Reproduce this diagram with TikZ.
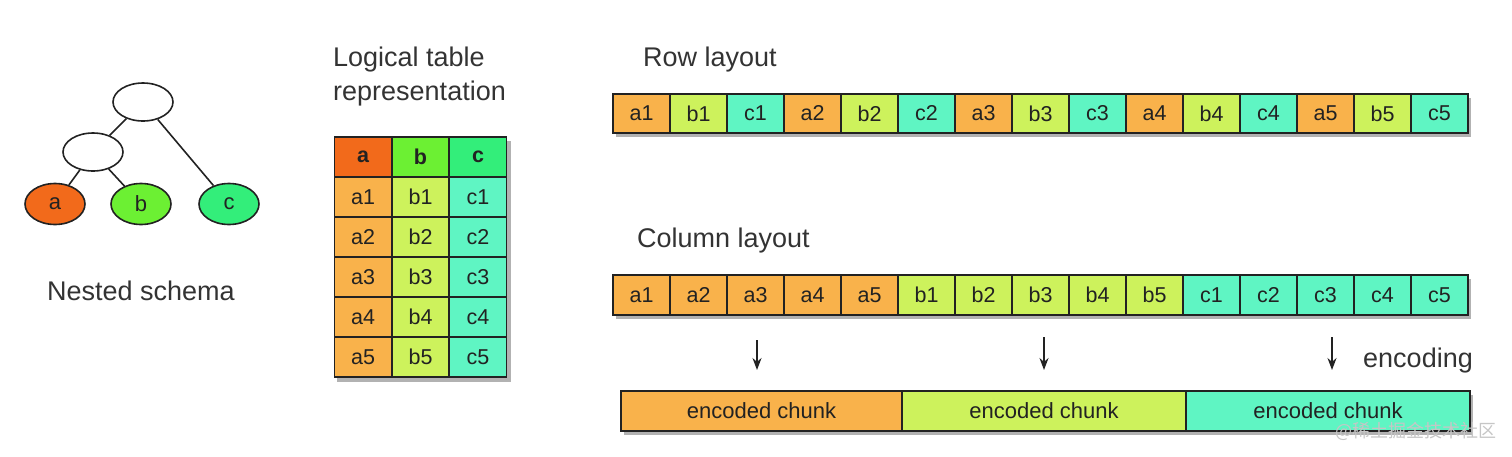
\documentclass[tikz,border=0pt]{standalone}
\usepackage{fontspec}
\setmainfont{Liberation Sans}
\newfontfamily\cjk{Noto Sans CJK SC}
\usetikzlibrary{shapes.geometric,shadows,arrows.meta}
\definecolor{hdrA}{HTML}{F26A1B}
\definecolor{hdrB}{HTML}{6CF033}
\definecolor{hdrC}{HTML}{33EE7A}
\definecolor{cellA}{HTML}{F9B24B}
\definecolor{cellB}{HTML}{CDF25C}
\definecolor{cellC}{HTML}{5FF5C3}
\definecolor{ink}{HTML}{222222}
\definecolor{title}{HTML}{333333}
\tikzset{
  title/.style={text=title,font=\fontsize{27}{32}\selectfont,anchor=base west,inner sep=0},
  treenode/.style={ellipse,draw=ink,line width=1.6pt,minimum width=60pt,minimum height=38pt,inner sep=0,font=\fontsize{22}{26}\selectfont,text=ink},
  edge/.style={draw=ink,line width=1.6pt},
  cell/.style={rectangle,draw=ink,line width=1.4pt,minimum width=57pt,minimum height=40pt,inner sep=0,font=\fontsize{21.5}{25}\selectfont,text=ink},
  hdr/.style={cell,font=\fontsize{21.5}{25}\selectfont\bfseries},
  chunk/.style={rectangle,draw=ink,line width=1.4pt,minimum height=40pt,inner sep=0,font=\fontsize{22}{26}\selectfont,text=ink},
  shadowbox/.style={draw=none,fill=black,opacity=0.3},
  encarrow/.style={draw=ink,line width=1.5pt,-{Stealth[length=12pt,width=9pt]}}
}
\begin{document}
\begin{tikzpicture}[x=1pt,y=-1pt]
\useasboundingbox (0,0) rectangle (1512,456);

% ---------- Nested schema ----------
\node[treenode] (root) at (143,102) {};
\node[treenode] (mid) at (93,152) {};
\node[treenode,fill=hdrA,minimum height=41pt] (la) at (55,204) {a};
\node[treenode,fill=hdrB,minimum height=41pt] (lb) at (141,204) {b};
\node[treenode,fill=hdrC,minimum height=41pt] (lc) at (229,204) {c};
\draw[edge] (root) -- (mid);
\draw[edge] (mid) -- (la);
\draw[edge] (mid) -- (lb);
\draw[edge] (root) -- (lc);
\node[title,anchor=base] (nestedtitle) at (141,300) {Nested schema};

% ---------- Logical table ----------
\node[title] (tabtitle1) at (333,66) {Logical table};
\node[title] (tabtitle2) at (333,100) {representation};
\fill[shadowbox] (337,141) rectangle (511,382);
\node[hdr,fill=hdrA] (tab-a) at (363,157) {a};
\node[hdr,fill=hdrB] (tab-b) at (420.5,157) {b};
\node[hdr,fill=hdrC] (tab-c) at (478,157) {c};
\foreach \r in {1,...,5}{
  \pgfmathsetmacro{\yy}{157+40*\r}
  \node[cell,fill=cellA] (tab-a\r) at (363,\yy) {a\r};
  \node[cell,fill=cellB] (tab-b\r) at (420.5,\yy) {b\r};
  \node[cell,fill=cellC] (tab-c\r) at (478,\yy) {c\r};
}

% ---------- Row layout ----------
\node[title] (rowtitle) at (643,66) {Row layout};
\fill[shadowbox] (616,98) rectangle (1471,137);
\foreach \i in {1,...,5}{
  \foreach \c/\col [count=\j] in {a/cellA,b/cellB,c/cellC}{
    \pgfmathsetmacro{\xx}{613+57*((\i-1)*3+\j-1)+28.5}
    \node[cell,fill=\col,minimum height=39pt] (row-\c\i) at (\xx,113.5) {\c\i};
  }
}

% ---------- Column layout ----------
\node[title] (coltitle) at (637,247) {Column layout};
\fill[shadowbox] (616,279) rectangle (1471,319);
\foreach \c/\col [count=\j] in {a/cellA,b/cellB,c/cellC}{
  \foreach \i in {1,...,5}{
    \pgfmathsetmacro{\xx}{613+57*((\j-1)*5+\i-1)+28.5}
    \node[cell,fill=\col] (col-\c\i) at (\xx,295) {\c\i};
  }
}

% ---------- Encoding ----------
\coordinate (e1s) at (757,340);
\coordinate (e1e) at (757,370);
\coordinate (e2s) at (1044,337);
\coordinate (e2e) at (1044,370);
\coordinate (e3s) at (1332,337);
\coordinate (e3e) at (1332,370);
\draw[encarrow] (e1s) -- (e1e);
\draw[encarrow] (e2s) -- (e2e);
\draw[encarrow] (e3s) -- (e3e);
\node[title] (enctitle) at (1363,367) {encoding};

\fill[shadowbox] (624,395) rectangle (1473,435);
\node[chunk,fill=cellA,minimum width=281pt] (chunkA) at (761.5,411) {encoded chunk};
\node[chunk,fill=cellB,minimum width=284pt] (chunkB) at (1044,411) {encoded chunk};
\node[chunk,fill=cellC,minimum width=284pt] (chunkC) at (1328,411) {encoded chunk};

% watermark
\node[anchor=west,inner sep=0,text=gray!45,font=\cjk\fontsize{18}{20}\selectfont] (wm) at (1335,431) {@稀土掘金技术社区};
\end{tikzpicture}
\end{document}
